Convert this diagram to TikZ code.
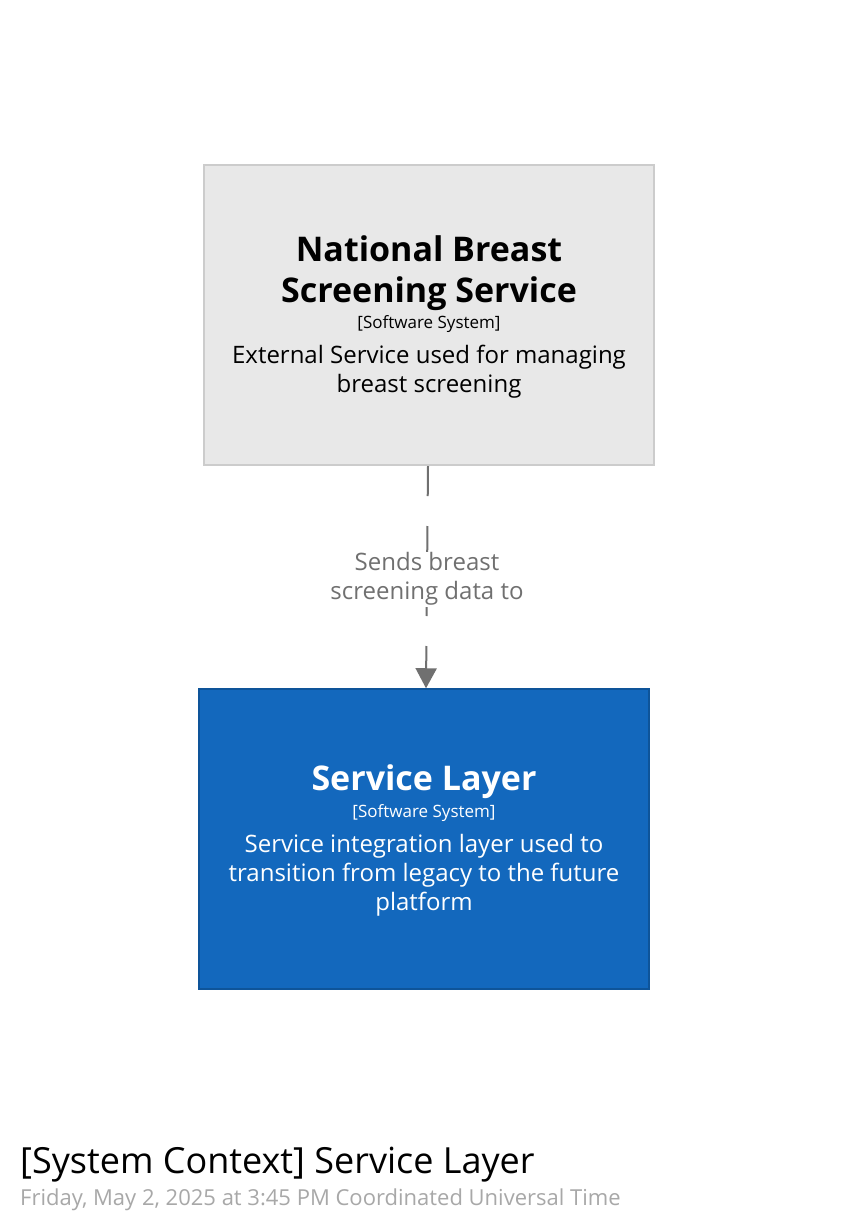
\documentclass[tikz,border=0pt]{standalone}
\usepackage{fontspec}
\setmainfont{Open Sans}
\usetikzlibrary{arrows.meta}

\definecolor{extfill}{HTML}{E8E8E8}
\definecolor{extline}{HTML}{CCCCCC}
\definecolor{sysfill}{HTML}{1368BD}
\definecolor{sysline}{HTML}{0E5499}
\definecolor{relgray}{HTML}{707070}
\definecolor{dategray}{HTML}{A8A8A8}

\begin{document}
\begin{tikzpicture}[x=1pt,y=-1pt,
  extbox/.style={draw=extline,fill=extfill,line width=2pt,minimum width=450pt,minimum height=300pt,inner sep=0pt},
  sysbox/.style={draw=sysline,fill=sysfill,line width=1.5pt,minimum width=450pt,minimum height=300pt,inner sep=0pt},
  nametext/.style={font=\fontsize{34}{41}\selectfont\bfseries,align=center,inner sep=0pt,anchor=base},
  typetext/.style={font=\fontsize{17}{20}\selectfont,inner sep=0pt,anchor=base},
  desctext/.style={font=\fontsize{24}{29}\selectfont,align=center,inner sep=0pt,anchor=base},
  rellabel/.style={fill=white,text=relgray,font=\fontsize{24}{29}\selectfont,align=center,inner sep=1pt,yshift=-2pt},
  rel/.style={relgray,line width=2pt,dash pattern=on 30pt off 30pt,-{Triangle[width=21pt,length=20pt]}},
]
\fill[white] (0,0) rectangle (855,1224);
\useasboundingbox (0,0) rectangle (855,1224);

% External system
\node[extbox] (nbss) at (429,315) {};
\node[nametext] (nbssname) at (429,302) {National Breast\\Screening Service};
\node[typetext] (nbsstype) at (429,328) {[Software System]};
\node[desctext] (nbssdesc) at (429,392) {External Service used for managing\\breast screening};

% Service Layer
\node[sysbox] (svc) at (424,839) {};
\node[nametext,text=white] (svcname) at (424,790) {Service Layer};
\node[typetext,text=white] (svctype) at (424,817) {[Software System]};
\node[desctext,text=white] (svcdesc) at (424,910) {Service integration layer used to\\transition from legacy to the future\\platform};

% Relationship
\draw[rel] ([xshift=-1pt]nbss.south) -- node[rellabel] (rellbl) {Sends breast\\screening data to} ([xshift=2pt]svc.north);

% Diagram title
\node[anchor=base west,inner sep=0pt,font=\fontsize{36}{40}\selectfont] (title) at (20,1173) {[System Context] Service Layer};
\node[anchor=base west,inner sep=0pt,font=\fontsize{22}{26}\selectfont,text=dategray] (date) at (20,1205) {Friday, May 2, 2025 at 3:45 PM Coordinated Universal Time};
\end{tikzpicture}
\end{document}
